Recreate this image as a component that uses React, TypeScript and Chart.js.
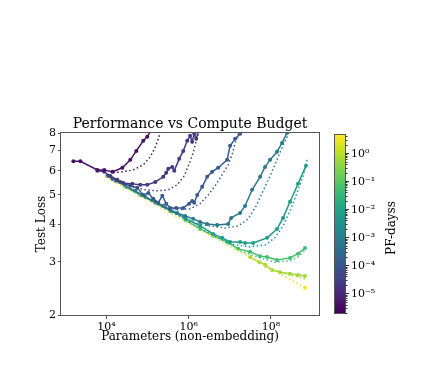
import React, { useEffect, useRef } from "react";
import { Chart, registerables } from "chart.js";

Chart.register(...registerables);

const SERIF = "'DejaVu Serif', 'Liberation Serif', serif";

// Compute budgets (PF-days) of the runs, darkest to brightest
const budgets = [4e-6, 2.3e-5, 1.2e-4, 7e-4, 6e-3, 5e-2, 0.55, 4.4];
const cbarMin = 2e-6;
const cbarMax = 4.4;

// Solid curves (runs): parameters vs test loss
const curve1Params = [1.58e3, 2.34e3, 6.05e3, 8.9e3, 1.4e4, 2.45e4, 3.83e4, 5.35e4, 7.91e4, 9.89e4, 1.31e5];
const curve1Loss = [6.45, 6.45, 6.04, 6.04, 5.95, 6.14, 6.52, 6.98, 7.54, 7.77, 8.32];
const curve2Params = [6.05e3, 8.9e3, 1.25e4, 1.85e4, 2.59e4, 4.28e4, 6.69e4, 9.89e4, 1.55e5, 2.42e5, 2.86e5, 3.2e5, 4.0e5, 4.47e5, 5.91e5, 7.4e5, 9.25e5, 1.09e6, 1.22e6, 1.37e6, 1.53e6, 1.81e6];
const curve2Loss = [6.0, 5.95, 5.77, 5.6, 5.47, 5.43, 5.39, 5.39, 5.51, 5.73, 5.91, 6.09, 6.18, 6.0, 6.57, 6.98, 7.54, 7.83, 7.48, 7.95, 7.65, 8.3];
const curve3Params = [1.06e4, 1.4e4, 2.19e4, 3.83e4, 5.65e4, 7.91e4, 1.05e5, 1.38e5, 1.83e5, 2.29e5, 2.86e5, 3.57e5, 5.0e5, 7.4e5, 1.03e6, 1.22e6, 1.37e6, 1.62e6, 2.14e6, 2.83e6, 3.74e6, 5.23e6, 8.65e6, 1.02e7, 1.35e7, 1.79e7, 2.24e7];
const curve3Loss = [5.77, 5.64, 5.51, 5.35, 5.27, 4.99, 5.07, 4.85, 4.7, 4.96, 4.67, 4.52, 4.52, 4.52, 4.67, 4.77, 4.7, 4.99, 5.31, 5.73, 5.95, 6.14, 6.52, 7.26, 7.65, 7.95, 8.4];
const curve4Params = [1.65e4, 2.89e4, 5.06e4, 8.85e4, 1.55e5, 2.42e5, 3.57e5, 5.29e5, 8.26e5, 1.29e6, 1.91e6, 2.83e6, 4.94e6, 9.14e6, 1.08e7, 1.79e7, 2.36e7, 3.5e7, 5.47e7, 7.23e7, 9.57e7, 1.41e8, 1.87e8, 2.47e8, 2.92e8];
const curve4Loss = [5.56, 5.35, 5.15, 4.92, 4.74, 4.59, 4.46, 4.35, 4.25, 4.16, 4.06, 4.0, 3.97, 4.0, 4.19, 4.35, 4.59, 5.19, 5.73, 6.18, 6.52, 6.93, 7.42, 8.01, 8.32];
const curve5Params = [2.89e4, 6.69e4, 1.55e5, 3.57e5, 8.26e5, 1.91e6, 3.95e6, 6.54e6, 1.02e7, 1.79e7, 2.36e7, 3.7e7, 8.09e7, 1.41e8, 1.98e8, 2.92e8, 4.57e8, 7.15e8];
const curve5Loss = [5.31, 4.99, 4.7, 4.42, 4.19, 3.94, 3.71, 3.6, 3.49, 3.49, 3.46, 3.46, 3.6, 3.85, 4.19, 4.74, 5.43, 6.23];
const curve6Params = [8.26e5, 1.91e6, 3.95e6, 8.65e6, 1.6e7, 3.13e7, 5.47e7, 8.09e7, 1.41e8, 2.92e8, 4.57e8, 6.76e8];
const curve6Loss = [4.13, 3.85, 3.66, 3.49, 3.31, 3.24, 3.13, 3.11, 3.04, 3.09, 3.19, 3.33];
const curve7Params = [3.13e7, 5.27e7, 7.23e7, 1.07e8, 1.67e8, 2.92e8, 4.57e8, 6.76e8];
const curve7Loss = [3.11, 2.99, 2.93, 2.82, 2.77, 2.74, 2.71, 2.69];
const curve8Params = [6.76e8];
const curve8Loss = [2.46];

// Dotted fits
const fit1Params = [1.48e4, 2.45e4, 4.52e4, 7.91e4, 1.17e5, 1.55e5, 1.83e5, 2.16e5];
const fit1Loss = [5.91, 5.95, 6.04, 6.28, 6.67, 7.2, 7.65, 8.2];
const fit2Params = [2.89e4, 5.06e4, 8.85e4, 1.73e5, 3.2e5, 5.29e5, 7.82e5, 1.03e6, 1.29e6, 1.53e6, 1.81e6];
const fit2Loss = [5.43, 5.27, 5.19, 5.15, 5.19, 5.39, 5.77, 6.32, 6.88, 7.54, 8.13];
const fit3Params = [1.17e5, 2.7e5, 5.59e5, 1.09e6, 1.91e6, 2.99e6, 4.42e6, 6.54e6, 9.14e6, 1.14e7, 1.35e7, 1.69e7];
const fit3Loss = [4.77, 4.56, 4.46, 4.49, 4.67, 4.99, 5.35, 5.82, 6.28, 6.78, 7.42, 8.05];
const fit4Params = [1.17e5, 3.57e5, 1.09e6, 3.34e6, 7.73e6, 1.6e7, 2.8e7, 4.38e7, 6.47e7, 9.57e7, 1.41e8, 1.87e8, 2.47e8, 2.92e8];
const fit4Loss = [4.77, 4.42, 4.06, 3.94, 3.88, 3.94, 4.16, 4.59, 5.15, 5.77, 6.52, 7.15, 7.77, 8.2];
const fit5Params = [1.09e6, 3.34e6, 1.02e7, 3.13e7, 7.23e7, 1.26e8, 1.98e8, 2.92e8, 4.32e8, 6.05e8, 7.56e8];
const fit5Loss = [4.03, 3.71, 3.43, 3.36, 3.41, 3.6, 3.94, 4.42, 5.07, 5.77, 6.52];
const fit6Params = [1.79e7, 5.47e7, 1.26e8, 2.92e8, 4.57e8, 6.76e8];
const fit6Loss = [3.26, 3.09, 2.99, 3.02, 3.11, 3.28];
const fit7Params = [7.23e7, 1.67e8, 3.86e8, 6.76e8];
const fit7Loss = [2.88, 2.77, 2.69, 2.63];

// Converged-model envelope (yellow dotted)
const envelopeParams = [9.5e3, 6.76e8];
const envelopeLoss = [5.73, 2.46];

// Axis ticks
const xTickValues = [1e4, 1e6, 1e8];
const xTickLabels = ["10⁴", "10⁶", "10⁸"];
const yTickValues = [2, 3, 4, 5, 6, 7, 8];
const cbarTickValues = [1, 0.1, 0.01, 0.001, 0.0001, 0.00001];
const cbarTickLabels = ["10⁰", "10⁻¹", "10⁻²", "10⁻³", "10⁻⁴", "10⁻⁵"];

const VIRIDIS = ["#440154", "#482475", "#414487", "#355f8d", "#2a788e", "#21918c", "#22a884", "#44bf70", "#7ad151", "#bddf26", "#fde725"];

function hexToRgb(h: string) {
  const n = parseInt(h.slice(1), 16);
  return [(n >> 16) & 255, (n >> 8) & 255, n & 255];
}
function viridis(t: number) {
  const c = Math.max(0, Math.min(1, t)) * 10;
  const i = Math.min(9, Math.floor(c));
  const f = c - i;
  const a = hexToRgb(VIRIDIS[i]);
  const b = hexToRgb(VIRIDIS[i + 1]);
  const m = a.map((v, k) => Math.round(v + (b[k] - v) * f));
  return `rgb(${m[0]},${m[1]},${m[2]})`;
}
function budgetT(b: number) {
  return (Math.log10(b) - Math.log10(cbarMin)) / (Math.log10(cbarMax) - Math.log10(cbarMin));
}

const runs = [
  [curve1Params, curve1Loss, fit1Params, fit1Loss],
  [curve2Params, curve2Loss, fit2Params, fit2Loss],
  [curve3Params, curve3Loss, fit3Params, fit3Loss],
  [curve4Params, curve4Loss, fit4Params, fit4Loss],
  [curve5Params, curve5Loss, fit5Params, fit5Loss],
  [curve6Params, curve6Loss, fit6Params, fit6Loss],
  [curve7Params, curve7Loss, fit7Params, fit7Loss],
  [curve8Params, curve8Loss, null, null],
];

const pts = (xs: number[], ys: number[]) => xs.map((x, i) => ({ x, y: ys[i] }));

function buildDatasets() {
  const ds: any[] = [];
  ds.push({
    data: pts(envelopeParams, envelopeLoss),
    borderColor: viridis(0.95),
    borderWidth: 1.6,
    borderDash: [1.6, 2.6],
    pointRadius: 0,
    showLine: true,
    clip: 0,
  });
  runs.forEach((r, i) => {
    const color = viridis(budgetT(budgets[i]));
    const [n, l, fn, fl] = r as any;
    ds.push({
      data: pts(n, l),
      borderColor: color,
      backgroundColor: color,
      borderWidth: 1.5,
      pointRadius: 2,
      pointBorderWidth: 0,
      showLine: n.length > 1,
      clip: 0,
    });
    if (fn) {
      ds.push({
        data: pts(fn, fl),
        borderColor: color,
        borderWidth: 1.5,
        borderDash: [1.5, 2.5],
        pointRadius: 0,
        showLine: true,
        clip: 0,
      });
    }
  });
  return ds;
}

const decorPlugin = {
  id: "decor",
  afterDraw(chart: any) {
    const { ctx, chartArea: a } = chart;
    ctx.save();
    // spines
    ctx.strokeStyle = "#555";
    ctx.lineWidth = 1;
    ctx.strokeRect(a.left - 0.5, a.top - 0.5, a.right - a.left + 1, a.bottom - a.top + 1);

    ctx.fillStyle = "#000";
    // title
    ctx.font = `14px ${SERIF}`;
    ctx.textAlign = "center";
    ctx.textBaseline = "alphabetic";
    ctx.fillText("Performance vs Compute Budget", (a.left + a.right) / 2, 127.5);
    // x label
    ctx.font = `12px ${SERIF}`;
    ctx.fillText("Parameters (non-embedding)", (a.left + a.right) / 2, 340);
    // y label
    ctx.save();
    ctx.translate(44.5, (a.top + a.bottom) / 2);
    ctx.rotate(-Math.PI / 2);
    ctx.fillText("Test Loss", 0, 0);
    ctx.restore();

    // colorbar
    const cbX = 335, cbW = 10, cbTop = 135, cbBot = 313;
    const g = ctx.createLinearGradient(0, cbBot, 0, cbTop);
    VIRIDIS.forEach((c, i) => g.addColorStop(i / 10, c));
    ctx.fillStyle = g;
    ctx.fillRect(cbX, cbTop, cbW, cbBot - cbTop);
    ctx.strokeStyle = "#555";
    ctx.strokeRect(cbX - 0.5, cbTop - 0.5, cbW + 1, cbBot - cbTop + 1);
    const lmax = Math.log10(cbarMax), lmin = Math.log10(cbarMin);
    const yOf = (v: number) => cbTop + ((lmax - Math.log10(v)) / (lmax - lmin)) * (cbBot - cbTop);
    ctx.strokeStyle = "#333";
    ctx.lineWidth = 1;
    for (let k = -7; k <= 1; k++) {
      for (let m = 2; m <= 9; m++) {
        const v = m * Math.pow(10, k);
        if (v < cbarMin || v > cbarMax) continue;
        const y = Math.round(yOf(v)) + 0.5;
        ctx.beginPath();
        ctx.moveTo(cbX + cbW + 0.5, y);
        ctx.lineTo(cbX + cbW + 2.5, y);
        ctx.stroke();
      }
    }
    ctx.fillStyle = "#000";
    ctx.font = `11px ${SERIF}`;
    ctx.textAlign = "left";
    ctx.textBaseline = "middle";
    cbarTickValues.forEach((v, i) => {
      const y = Math.round(yOf(v)) + 0.5;
      ctx.beginPath();
      ctx.moveTo(cbX + cbW + 0.5, y);
      ctx.lineTo(cbX + cbW + 4, y);
      ctx.stroke();
      ctx.fillText(cbarTickLabels[i], cbX + cbW + 6, y + 1);
    });
    ctx.save();
    ctx.translate(395, 228);
    ctx.rotate(-Math.PI / 2);
    ctx.textAlign = "center";
    ctx.textBaseline = "alphabetic";
    ctx.font = `12px ${SERIF}`;
    ctx.fillText("PF-dayss", 0, 0);
    ctx.restore();
    ctx.restore();
  },
};

export default function App() {
  const ref = useRef<HTMLCanvasElement | null>(null);
  useEffect(() => {
    document.body.style.margin = "0";
    if (!ref.current) return;
    const chart = new Chart(ref.current, {
      type: "scatter",
      data: { datasets: buildDatasets() },
      options: {
        animation: false,
        responsive: false,
        devicePixelRatio: 1,
        layout: { padding: { left: 0, right: 106, top: 133, bottom: 0 } },
        plugins: { legend: { display: false }, tooltip: { enabled: false }, title: { display: false } },
        elements: { line: { tension: 0 } },
        scales: {
          x: {
            type: "logarithmic",
            min: 790,
            max: 1.48e9,
            afterFit: (s: any) => { s.height = 53; },
            afterBuildTicks: (s: any) => { s.ticks = xTickValues.map((v) => ({ value: v })); },
            ticks: {
              autoSkip: false,
              maxRotation: 0,
              color: "#000",
              padding: 2,
              font: { family: SERIF, size: 11 },
              callback: (_v: any, i: number) => xTickLabels[i],
            },
            grid: { display: true, drawOnChartArea: false, drawTicks: true, tickLength: 4, color: "#555" },
            border: { display: false },
          },
          y: {
            type: "logarithmic",
            min: 2,
            max: 8,
            afterFit: (s: any) => { s.width = 61; },
            afterBuildTicks: (s: any) => { s.ticks = yTickValues.map((v) => ({ value: v })); },
            ticks: {
              autoSkip: false,
              color: "#000",
              padding: 2,
              font: { family: SERIF, size: 11 },
              callback: (_v: any, i: number) => String(yTickValues[i]),
            },
            grid: { display: true, drawOnChartArea: false, drawTicks: true, tickLength: 3, color: "#555" },
            border: { display: false },
          },
        },
      } as any,
      plugins: [decorPlugin],
    });
    return () => chart.destroy();
  }, []);
  return (
    <div style={{ width: 425, height: 368 }}>
      <canvas ref={ref} width={425} height={368} />
    </div>
  );
}
